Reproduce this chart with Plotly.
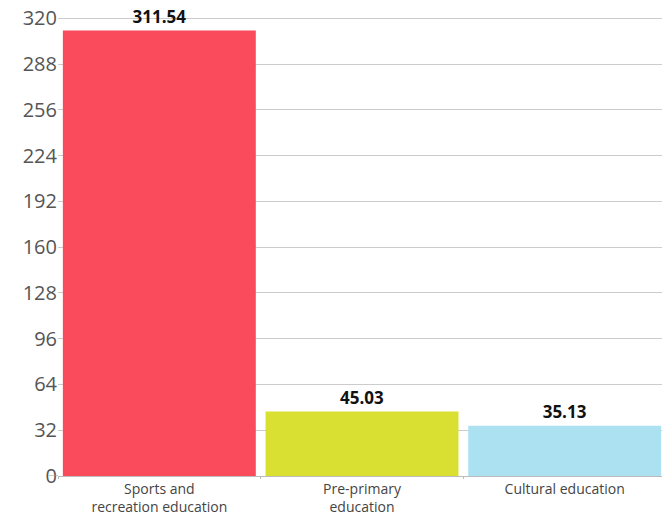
import plotly.graph_objects as go

categories = ["Sports and<br>recreation education", "Pre-primary<br>education", "Cultural education"]
values = [311.54, 45.03, 35.13]
colors = ["#fa4b5c", "#d9e031", "#ace1f2"]
y_ticks = list(range(0, 321, 32))

fig = go.Figure()
fig.add_trace(go.Bar(
    x=categories, y=values,
    marker=dict(color=colors, line=dict(width=0)),
    text=[f"{v:.2f}" for v in values],
    textposition="outside",
    textfont=dict(family="Open Sans", size=17, color="#111111", weight="bold"),
    cliponaxis=False,
))
# the page body adds an 8px offset, so margins are shifted to compensate
fig.update_layout(
    width=670, height=515,
    margin=dict(l=50, r=12, t=9, b=47),
    plot_bgcolor="white", paper_bgcolor="white",
    bargap=0.048, showlegend=False,
    font=dict(family="Open Sans", color="#444444"),
)
fig.update_yaxes(
    range=[0, 321], tickvals=y_ticks, showgrid=True, gridcolor="#cccccc", gridwidth=1,
    ticks="", automargin=False, ticklabeloverflow="allow",
    tickfont=dict(size=20, color="#555555"), zeroline=False,
)
fig.update_xaxes(
    showline=True, linecolor="#bbbbbb", ticks="outside", tickson="boundaries",
    ticklen=2, tickcolor="#bbbbbb", automargin=False,
    tickfont=dict(size=14, color="#444444"),
)
# small tick at the zero line on the value axis
fig.add_shape(type="line", xref="paper", yref="y", x0=-0.015, x1=0, y0=0, y1=0,
              line=dict(color="#999999", width=1))
fig.write_html("out.html")
